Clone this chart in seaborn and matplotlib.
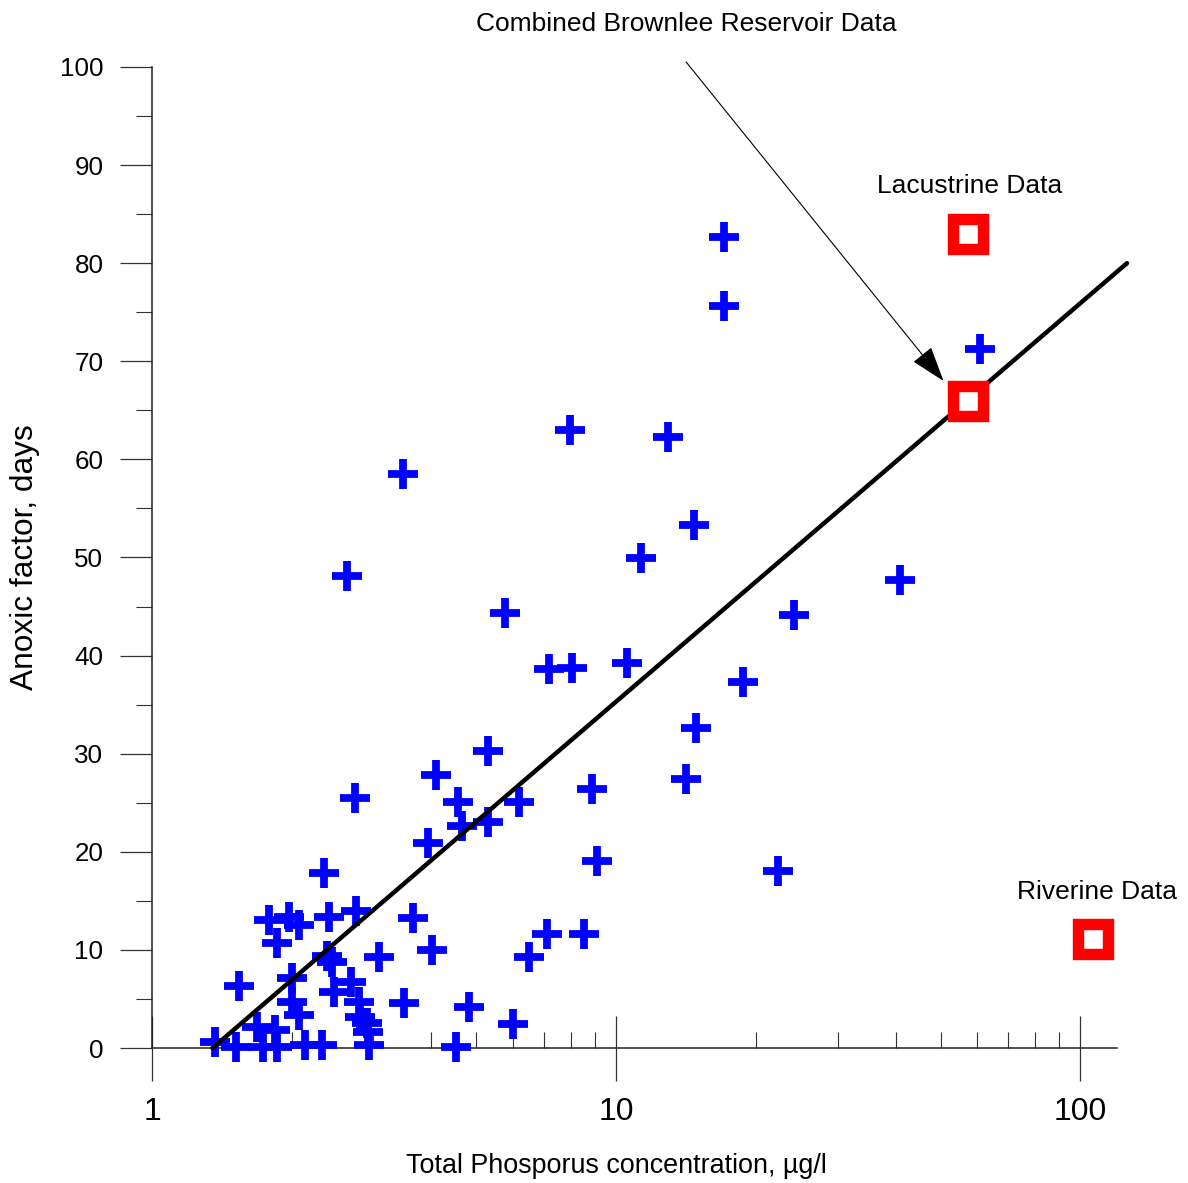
import numpy as np
import pandas as pd
import matplotlib
matplotlib.use('Agg')
import matplotlib.pyplot as plt
import matplotlib.ticker as mticker
import seaborn as sns

# Brownlee Reservoir observations (total P, ug/l  vs  anoxic factor, days)
tp = [17.1, 17.1, 60.9, 7.96, 12.95, 3.47, 14.73, 11.32, 2.63, 40.9,
      5.76, 24.2, 7.17, 8.04, 10.56, 18.78, 14.87, 5.30, 4.09, 14.15,
      2.74, 8.88, 4.57, 6.18, 5.30, 4.66, 3.93, 9.10, 22.35, 2.35,
      3.65, 4.01, 3.08, 7.10, 8.53, 6.49, 3.49, 4.82, 6.00, 4.52,
      1.79, 1.97, 2.07, 2.41, 2.75, 1.86, 1.54, 2.00, 2.38, 2.44,
      2.68, 2.47, 2.79, 2.00, 2.07, 1.68, 1.84, 2.81, 2.91, 2.92,
      1.37, 1.52, 1.73, 1.86, 2.14, 2.32, 2.94]
af = [82.7, 75.6, 71.3, 63.0, 62.3, 58.5, 53.3, 49.9, 48.1, 47.7,
      44.3, 44.1, 38.6, 38.7, 39.2, 37.3, 32.6, 30.3, 27.8, 27.4,
      25.5, 26.4, 25.1, 25.1, 23.0, 22.6, 20.9, 19.1, 18.0, 17.8,
      13.3, 10.0, 9.3, 11.6, 11.6, 9.3, 4.6, 4.2, 2.4, 0.1,
      13.0, 13.4, 12.5, 13.4, 14.0, 10.7, 6.3, 7.1, 9.4, 8.8,
      6.7, 5.7, 4.7, 4.7, 3.4, 2.1, 1.8, 3.2, 2.5, 1.6,
      0.6, 0.1, 0.1, 0.1, 0.3, 0.3, 0.3]

# lacustrine / riverine summary points
sq_tp = [57.4, 57.4, 106.6]
sq_af = [83.0, 65.9, 11.1]

# fitted line
fit_tp = [1.35, 126.0]
fit_af = [0.0, 80.0]

x_ticks = [1, 10, 100]
x_labels = ['1', '10', '100']
y_ticks = [0, 10, 20, 30, 40, 50, 60, 70, 80, 90, 100]

df = pd.DataFrame({'tp': tp, 'af': af})

sns.set_style('white')
plt.rcParams['font.family'] = ['Liberation Sans', 'DejaVu Sans']
plt.rcParams['text.color'] = 'black'
plt.rcParams['axes.labelcolor'] = 'black'
plt.rcParams['xtick.color'] = 'black'
plt.rcParams['ytick.color'] = 'black'

fig = plt.figure(figsize=(11.88, 11.83), dpi=100)
ax = fig.add_axes([0.12795, 0.1141, 0.8207, 0.8293])

sns.scatterplot(data=df, x='tp', y='af', marker='+', s=440, linewidth=5.6,
                color='#0000ff', ax=ax, clip_on=False, zorder=3)
sns.lineplot(x=fit_tp, y=fit_af, color='black', linewidth=3.2, ax=ax,
             zorder=4, clip_on=False)
sq = ax.scatter(sq_tp, sq_af, marker='s', s=460, facecolor='white',
                edgecolor='#ff0000', linewidth=8.2, zorder=5, clip_on=False)
sq.set_joinstyle('miter')

ax.set_xscale('log')
ax.set_xlim(1, 126)
ax.set_ylim(0, 100)

ax.set_xticks(x_ticks)
ax.set_xticklabels(x_labels)
ax.xaxis.set_minor_locator(mticker.LogLocator(base=10, subs=np.arange(2, 10)))
ax.xaxis.set_minor_formatter(mticker.NullFormatter())
ax.set_yticks(y_ticks)
ax.yaxis.set_minor_locator(mticker.MultipleLocator(5))

ax.tick_params(axis='x', which='major', direction='inout', length=46.8,
               width=0.9, color='#333333', labelsize=23, pad=12,
               bottom=True, labelcolor='black')
ax.tick_params(axis='x', which='minor', direction='in', length=11.5,
               width=0.8, color='#333333', bottom=True)
ax.tick_params(axis='y', which='major', direction='out', length=23,
               width=0.9, color='#333333', labelsize=18.7, pad=12,
               left=True, labelcolor='black')
ax.tick_params(axis='y', which='minor', direction='out', length=11.5,
               width=0.8, color='#333333', left=True)

for s in ['top', 'right']:
    ax.spines[s].set_visible(False)
ax.spines['left'].set_bounds(0, 100)
ax.spines['bottom'].set_bounds(1, 120)
ax.spines['left'].set_color('#222222')
ax.spines['bottom'].set_color('#222222')
ax.spines['left'].set_linewidth(1.1)
ax.spines['bottom'].set_linewidth(1.1)

ax.set_xlabel('Total Phosporus concentration, µg/l', fontsize=19.4,
              color='black')
ax.xaxis.set_label_coords(0.476, -0.107)
ax.set_ylabel('Anoxic factor, days', fontsize=22.8, color='black')
ax.yaxis.set_label_coords(-0.115, 0.5)

ax.text(14.15, 104.4, 'Combined Brownlee Reservoir Data', fontsize=19,
        ha='center', va='center', clip_on=False, color='black')
ax.annotate('', xy=(50.7, 68.0), xytext=(14.15, 100.5),
            arrowprops=dict(arrowstyle='-|>,head_length=0.9,head_width=0.3',
                            color='black', lw=0.8, mutation_scale=25,
                            shrinkA=0, shrinkB=0),
            annotation_clip=False)
ax.text(57.7, 87.9, 'Lacustrine Data', fontsize=19, ha='center',
        va='center', clip_on=False, color='black')
ax.text(108.8, 15.9, 'Riverine Data', fontsize=19, ha='center',
        va='center', clip_on=False, color='black')

fig.savefig('out.png', dpi=100)
